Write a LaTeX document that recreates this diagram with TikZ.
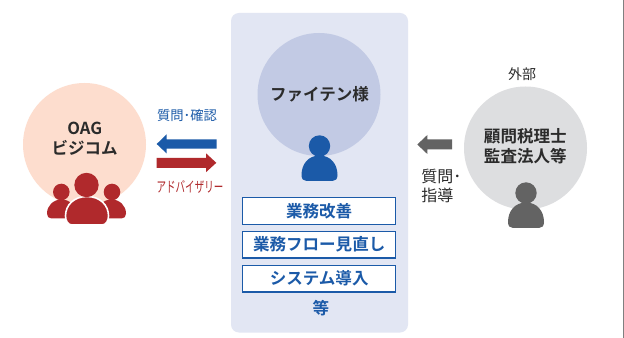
\documentclass[tikz,border=0pt]{standalone}
\usepackage{fontspec}
\setmainfont{Noto Sans CJK JP}
\newfontfamily\jpbold{Noto Sans CJK JP Bold}
\definecolor{oagred}{HTML}{B0292C}
\definecolor{oagpink}{HTML}{FDDDCE}
\definecolor{navy}{HTML}{1B5AA8}
\definecolor{panelblue}{HTML}{E2E6F3}
\definecolor{circblue}{HTML}{C2CAE4}
\definecolor{darkgrey}{HTML}{636363}
\definecolor{lightgrey}{HTML}{DDDEE0}
\definecolor{inktext}{HTML}{2B2B2B}
\tikzset{
  x=0.75pt,y=-0.75pt,
  person/.pic={
    \fill[pic actions] (0,-12) circle (10.7);
    \fill[pic actions] (-18,17) .. controls (-18,6) and (-11,-2.5) .. (0,-2.5) .. controls (11,-2.5) and (18,6) .. (18,17) .. controls (18,21) and (16,23) .. (13,23) -- (-13,23) .. controls (-16,23) and (-18,21) .. (-18,17) -- cycle;
  },
  sidebody/.pic={
    \fill[oagred] (-14.5,14) .. controls (-14.5,6) and (-8,0) .. (0,0) .. controls (8,0) and (14.5,6) .. (14.5,14) .. controls (14.5,17) and (13,19) .. (10,19) -- (-10,19) .. controls (-13,19) and (-14.5,17) .. (-14.5,14) -- cycle;
  },
  bigcircle/.style={circle,inner sep=0pt,minimum size=92.25pt},
  heading/.style={font=\jpbold\fontsize{12.4}{15}\selectfont,text=inktext,align=center},
  small/.style={font=\fontsize{10}{13}\selectfont,align=center},
  itembox/.style={draw=navy,line width=0.9pt,fill=white,minimum width=115pt,minimum height=20pt,inner sep=0pt,text=navy,font=\jpbold\fontsize{12.4}{14}\selectfont},
}
\begin{document}
\begin{tikzpicture}
\useasboundingbox (0,0) rectangle (624,338);
\fill[white] (0,0) rectangle (624,338);
\fill[gray] (622.8,0) rectangle (624,338);
% panel
\fill[panelblue,rounded corners=6pt] (231,13) rectangle (408,332.5);
% circles
\node[bigcircle,fill=oagpink] (oagc) at (84.5,144.5) {};
\node[bigcircle,fill=circblue] (faic) at (319,94.5) {};
\node[bigcircle,fill=lightgrey] (extc) at (525.5,148) {};
\node[heading] (oagt) at (84.7,139) {OAG\\ビジコム};
\node[heading] (fait) at (319.5,94.5) {ファイテン様};
\node[heading] (extt) at (525.3,146) {顧問税理士\\監査法人等};
% people
\pic[fill=navy] at (319.5,158) {person};
\pic[fill=darkgrey] at (526,205) {person};
% OAG group
\fill[oagred] (61.3,192) circle (8.3);
\fill[oagred] (112,192) circle (8.3);
\pic at (61.5,199.5) {sidebody};
\pic at (111.5,199.5) {sidebody};
\fill[oagred,draw=white,line width=1.2pt] (65.5,216) .. controls (65.5,205) and (74,196.5) .. (87,196.5) .. controls (100,196.5) and (108.5,205) .. (108.5,216) .. controls (108.5,221) and (106,225) .. (102,225) -- (72,225) .. controls (68,225) and (65.5,221) .. (65.5,216) -- cycle;
\fill[oagred] (86.5,185) circle (12.2);
% arrows
\fill[navy] (156.7,144) -- (166.7,134.3) -- (166.7,139.3) -- (216.7,139.3) -- (216.7,148.7) -- (166.7,148.7) -- (166.7,153.5) -- cycle;
\fill[oagred] (216.3,162.8) -- (206,153.3) -- (206,158) -- (156.7,158) -- (156.7,168) -- (206,168) -- (206,172.2) -- cycle;
\fill[darkgrey] (417.3,144.5) -- (427.3,135) -- (427.3,139.5) -- (452,139.5) -- (452,149.3) -- (427.3,149.3) -- (427.3,154) -- cycle;
% labels
\node[small,text=navy] (q1) at (187,115.7) {質問･確認};
\node[text=oagred,font=\fontsize{11}{13}\selectfont] (adv) at (190,186.7) {\scalebox{0.65}[1]{アドバイザリー}};
\node[text=inktext,font=\fontsize{10.5}{13}\selectfont] (gai) at (522,74) {外部};
\node[text=inktext,align=left,font=\fontsize{12}{14.5}\selectfont,anchor=west,inner sep=0pt] (q2) at (421,186) {質問･\\指導};
% boxes
\node[itembox] (b1) at (319.2,210.8) {業務改善};
\node[itembox] (b2) at (319.2,244.6) {業務フロー見直し};
\node[itembox] (b3) at (319.2,278.6) {システム導入};
\node[text=navy,font=\jpbold\fontsize{12.4}{14}\selectfont] (etc) at (321,308) {等};
\end{tikzpicture}
\end{document}
